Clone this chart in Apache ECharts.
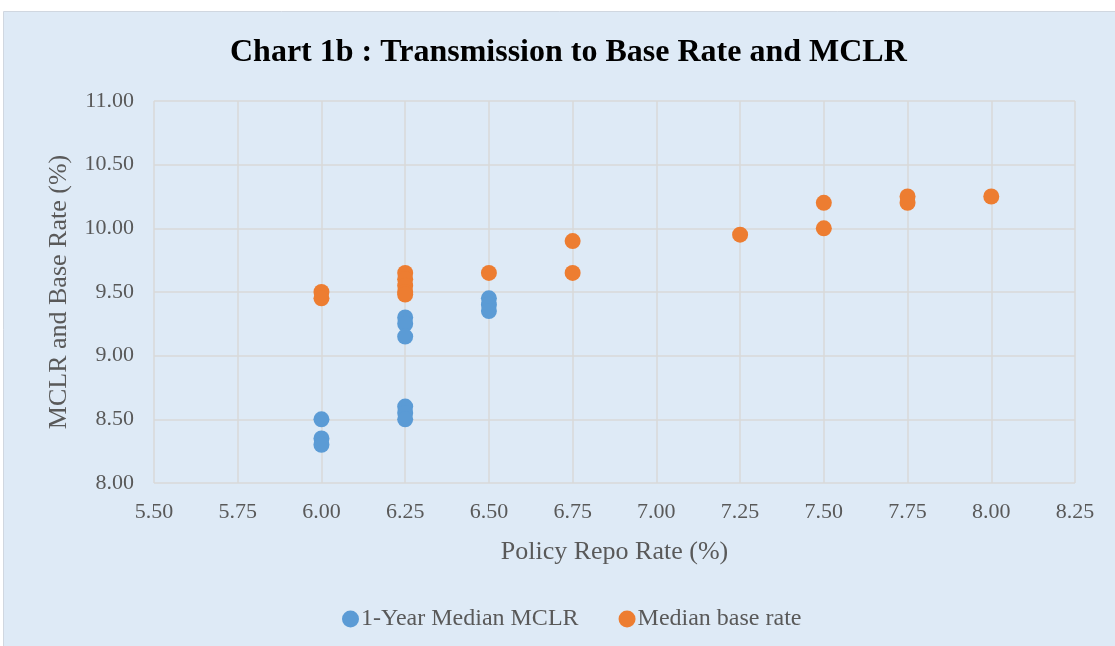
<!DOCTYPE html>
<html>
<head>
<meta charset="utf-8">
<script src="https://cdn.jsdelivr.net/npm/echarts@6/dist/echarts.min.js"></script>
<style>
  html, body { margin: 0; padding: 0; background: #fff; }
  #chart { width: 1115px; height: 646px; }
</style>
</head>
<body>
<div id="chart"></div>
<script>
// 1-Year Median MCLR: [repo, rate]
var mclrRepo = [6.00, 6.00, 6.00, 6.25, 6.25, 6.25, 6.25, 6.25, 6.25, 6.50, 6.50, 6.50];
var mclrRate = [8.50, 8.35, 8.30, 9.30, 9.25, 9.15, 8.60, 8.55, 8.50, 9.45, 9.40, 9.35];

// Median base rate
var baseRepo = [6.00, 6.00, 6.25, 6.25, 6.25, 6.25, 6.25, 6.50, 6.75, 6.75, 7.25, 7.50, 7.50, 7.75, 7.75, 8.00];
var baseRate = [9.50, 9.45, 9.65, 9.60, 9.55, 9.50, 9.48, 9.65, 9.90, 9.65, 9.95, 10.20, 10.00, 10.25, 10.20, 10.25];

function pairs(xs, ys) {
    return xs.map(function (x, i) { return [x, ys[i]]; });
}

var chart = echarts.init(document.getElementById('chart'));
var font = '"Liberation Serif", "Times New Roman", serif';

var option = {
    animation: false,
    color: ['#5B9BD5', '#ED7D31'],
    graphic: [{
        type: 'rect',
        z: -10,
        shape: { x: 3.5, y: 11.5, width: 1120, height: 640 },
        style: { fill: '#DEEAF6', stroke: '#D0D7E0', lineWidth: 1 }
    }],
    title: {
        text: 'Chart 1b : Transmission to Base Rate and MCLR',
        left: 225,
        top: 32,
        textStyle: { fontFamily: font, fontSize: 32, fontWeight: 'bold', color: '#000' }
    },
    legend: {
        bottom: 10,
        left: 337,
        itemWidth: 17,
        itemHeight: 17,
        itemGap: 40,
        icon: 'circle',
        textStyle: { fontFamily: font, fontSize: 24, color: '#595959', padding: [0, 0, 0, -3] },
        data: ['1-Year Median MCLR', 'Median base rate']
    },
    grid: { left: 154, right: 40, top: 101, bottom: 163 },
    xAxis: {
        type: 'value',
        min: 5.5,
        max: 8.25,
        interval: 0.25,
        name: 'Policy Repo Rate (%)',
        nameLocation: 'middle',
        nameGap: 56,
        nameTextStyle: { fontFamily: font, fontSize: 26, color: '#595959' },
        axisLine: { show: false },
        axisTick: { show: false },
        axisLabel: {
            fontFamily: font, fontSize: 22, color: '#595959', margin: 18,
            formatter: function (v) { return v.toFixed(2); }
        },
        splitLine: { show: true, lineStyle: { color: '#D9D9D9', width: 1.5 } }
    },
    yAxis: {
        type: 'value',
        min: 8,
        max: 11,
        interval: 0.5,
        name: 'MCLR and Base Rate (%)',
        nameLocation: 'middle',
        nameGap: 82,
        nameTextStyle: { fontFamily: font, fontSize: 26, color: '#595959' },
        axisLine: { show: false },
        axisTick: { show: false },
        axisLabel: {
            fontFamily: font, fontSize: 22, color: '#595959', margin: 20,
            formatter: function (v) { return v.toFixed(2); }
        },
        splitLine: { show: true, lineStyle: { color: '#D9D9D9', width: 1.5 } }
    },
    series: [
        {
            name: '1-Year Median MCLR',
            type: 'scatter',
            symbolSize: 16,
            itemStyle: { opacity: 1 },
            data: pairs(mclrRepo, mclrRate)
        },
        {
            name: 'Median base rate',
            type: 'scatter',
            symbolSize: 16,
            itemStyle: { opacity: 1 },
            data: pairs(baseRepo, baseRate)
        }
    ]
};

chart.setOption(option);
</script>
</body>
</html>
